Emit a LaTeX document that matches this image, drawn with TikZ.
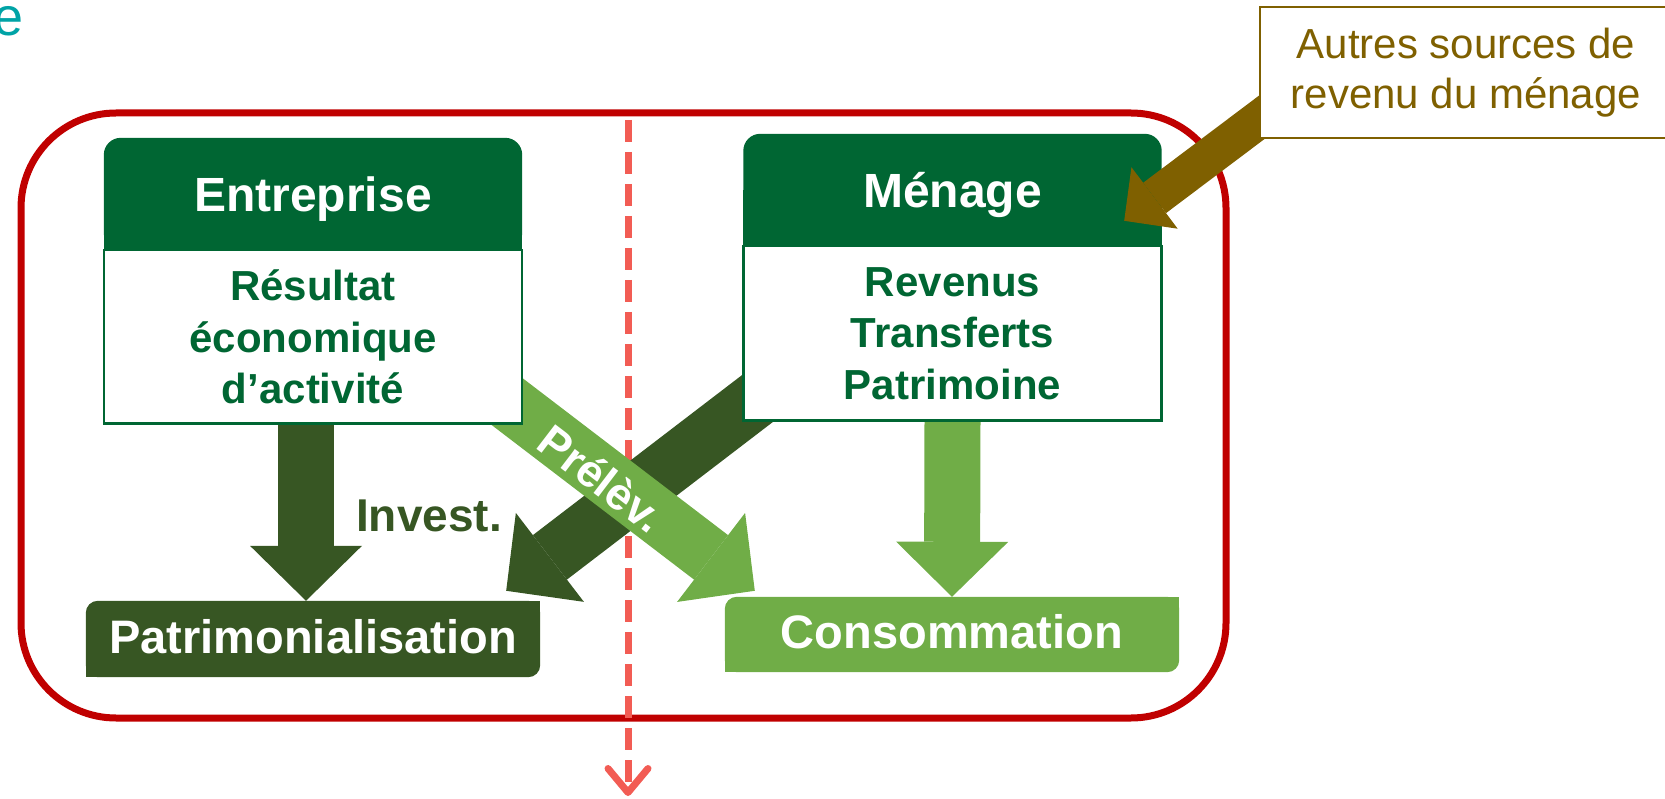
\documentclass[tikz,border=0pt]{standalone}
\usepackage{fontspec}
\setmainfont{Liberation Sans}
\usetikzlibrary{arrows.meta,positioning,calc}

\definecolor{hdgreen}{HTML}{006633}
\definecolor{invgreen}{HTML}{375623}
\definecolor{prlgreen}{HTML}{70AD47}
\definecolor{framered}{HTML}{C00000}
\definecolor{cutred}{HTML}{F25C54}
\definecolor{srcbrown}{HTML}{7F6000}
\definecolor{titleteal}{HTML}{00A3A6}

\pgfdeclarelayer{frame}
\pgfdeclarelayer{flows}
\pgfdeclarelayer{fills}
\pgfdeclarelayer{feed}
\pgfdeclarelayer{top}
\pgfsetlayers{frame,flows,fills,main,feed,top}

\tikzset{
  head/.style={minimum width=418pt, minimum height=112pt, inner sep=0pt, text=white,
    font=\fontsize{48}{58}\selectfont\bfseries, text height=36pt, text depth=0pt},
  body/.style={minimum width=418pt, inner sep=0pt, text=hdgreen, align=center,
    font=\fontsize{42}{51.5}\selectfont\bfseries},
  sink/.style={minimum width=454pt, minimum height=76pt, inner sep=0pt, text=white,
    font=\fontsize{47}{56}\selectfont\bfseries, text height=28pt, text depth=0pt},
  flow/.style={line width=56pt, -{Triangle[length=55pt, width=112pt, line width=0pt]}},
  feedarrow/.style={srcbrown, line width=38pt, -{Triangle[length=38pt, width=77pt, line width=0pt]}},
}

\begin{document}
\begin{tikzpicture}[x=1pt, y=-1pt]
\path[use as bounding box] (0,0) rectangle (1665,799);
\clip (0,0) rectangle (1665,799);

\node[head] (enthead) at (313,194) {Entreprise};
\node[body, minimum height=173pt, below=0pt of enthead] (entbody) {Résultat\\économique\\d’activité};
\node[head] (menhead) at (952.5,190) {Ménage};
\node[body, minimum height=174pt, below=0pt of menhead] (menbody) {Revenus\\Transferts\\Patrimoine};
\node[sink] (patri) at (313,639) {Patrimonialisation};
\node[sink, minimum height=75pt] (conso) at (952,634.5) {Consommation};
\node[anchor=base, text=invgreen, font=\fontsize{46}{55}\selectfont\bfseries] (invest) at (429,531) {Invest.};
\node[anchor=base east, inner sep=0pt, text=titleteal, font=\fontsize{54}{60}\selectfont] (title) at (24,36) {e};

\coordinate (cuttop) at (628,120);
\coordinate (cutend) at (628,796);

% cadre et coupure
\begin{pgfonlayer}{frame}
  \draw[framered, line width=7pt, rounded corners=95pt] (21,113) rectangle (1226,718);
  \draw[cutred, line width=7pt, dash pattern=on 22pt off 10pt,
    -{Straight Barb[length=24pt, width=40pt, round]}] (cuttop) -- (cutend);
\end{pgfonlayer}

% fonds des boites
\begin{pgfonlayer}{fills}
  \foreach \who in {ent,men} {
    \fill[hdgreen, rounded corners=17pt] (\who head.south west) rectangle (\who head.north east);
    \fill[hdgreen] (\who head.south west) rectangle (\who head.east);
    \filldraw[fill=white, draw=hdgreen, line width=2.5pt] (\who body.south west) rectangle (\who body.north east);
  }
  \foreach \who/\col in {patri/invgreen,conso/prlgreen} {
    \fill[\col, rounded corners=12pt] (\who.south west) rectangle (\who.north east);
    \fill[\col] (\who.south west) rectangle (\who.center);
    \fill[\col] (\who.center) rectangle (\who.north east);
  }
\end{pgfonlayer}

% flux
\begin{pgfonlayer}{flows}
  \draw[flow, invgreen] ([xshift=-7pt]entbody.south) -- ([xshift=-7pt]patri.north);
  \draw[flow, prlgreen] (menbody.south) -- (conso.north);
  \draw[flow, invgreen] ($(menbody.west)+(47,40)$) -- ($(patri.north east)+(-34,-10)$);
  \draw[flow, prlgreen] ($(entbody.east)+(-52,36.5)$) -- ($(conso.north west)+(30,-6)$)
    node[pos=0.47, sloped, yshift=-4pt, text=white, font=\fontsize{45}{54}\selectfont\bfseries] (prelev) {Prélèv.};
\end{pgfonlayer}

\begin{pgfonlayer}{top}
  \node[draw=srcbrown, line width=2.5pt, fill=white, text=srcbrown, minimum width=412pt,
    minimum height=131pt, inner sep=0pt, align=center, font=\fontsize{42}{50}\selectfont]
    (autres) at (1466,72.5) {Autres sources de\\revenu du ménage};
\end{pgfonlayer}

\begin{pgfonlayer}{feed}
  \draw[feedarrow] ($(autres.west)+(30,24.5)$) -- ($(menhead.north east)+(-37.5,87)$);
\end{pgfonlayer}
\end{tikzpicture}
\end{document}
